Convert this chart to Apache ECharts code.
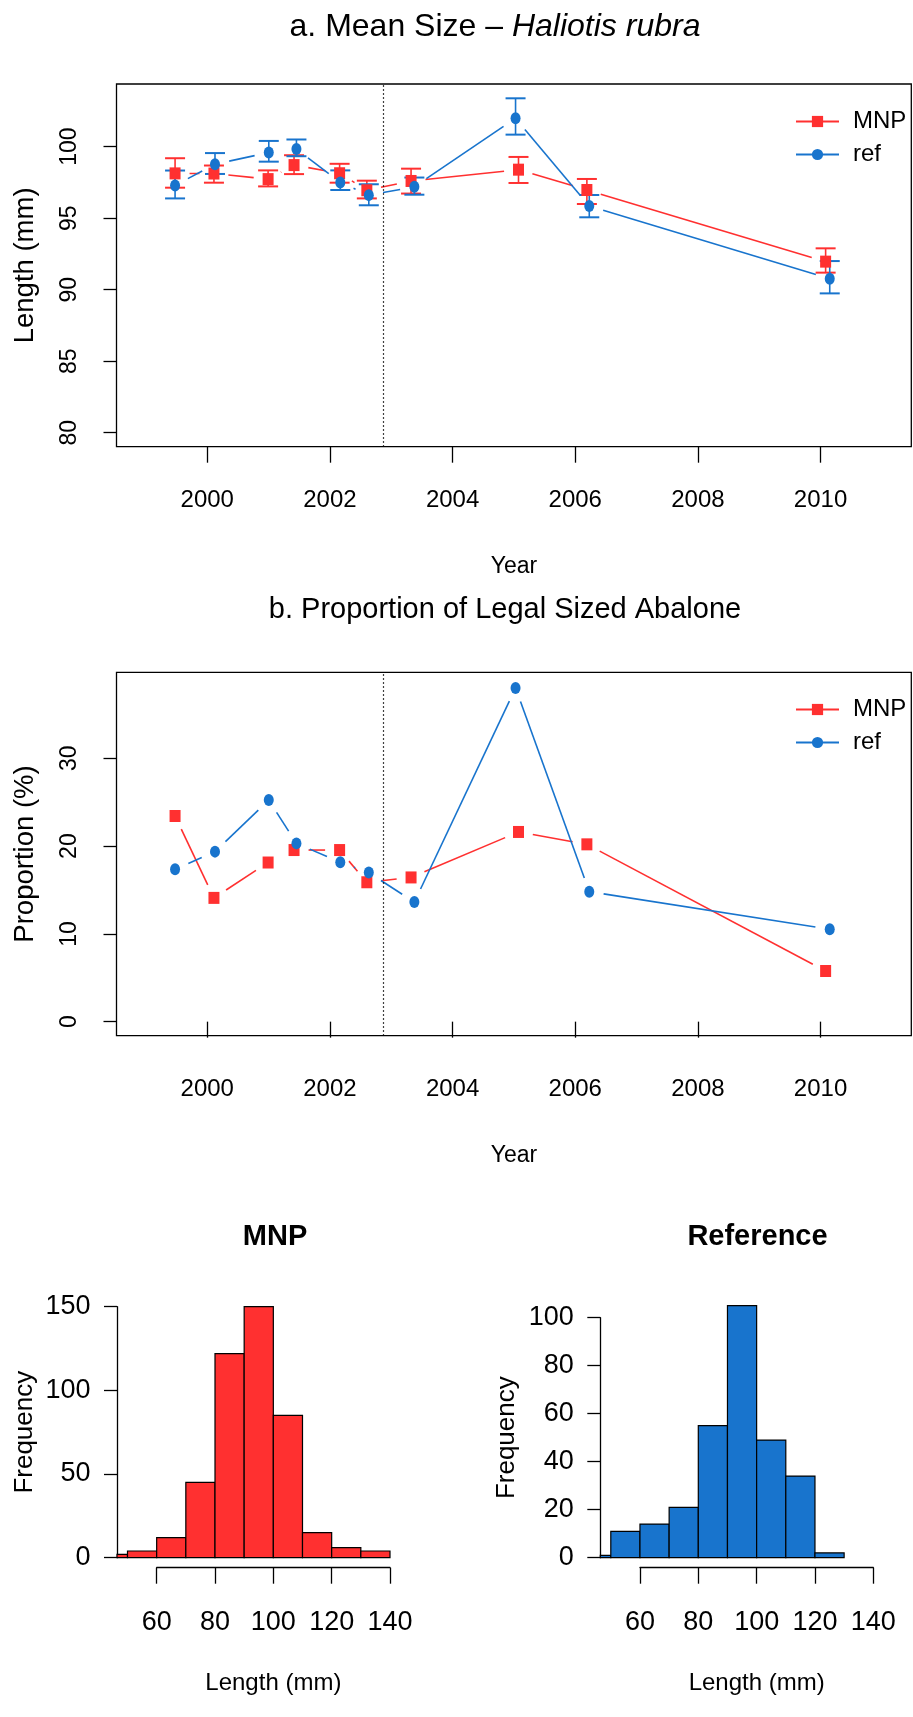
<!DOCTYPE html>
<html>
<head>
<meta charset="utf-8">
<title>Haliotis rubra - MNP vs reference</title>
<script src="https://cdn.jsdelivr.net/npm/echarts@6/dist/echarts.min.js"></script>
<style>
    html, body { margin: 0; padding: 0; background: #fff; }
    #chart { width: 913px; height: 1717px; }
</style>
</head>
<body>
<div id="chart"></div>
<script>
// survey dates, decimal years
const yearsMNP = [1999.475, 2000.109, 2000.992, 2001.415, 2002.158, 2002.602, 2003.323, 2005.075, 2006.190, 2010.083];
const yearsRef = [1999.475, 2000.126, 2001.003, 2001.454, 2002.169, 2002.634, 2003.377, 2005.027, 2006.229, 2010.150];
const protectionYear = 2002.873;

// a. mean length (mm) and error bar limits
const meanMNP = [98.13, 98.12, 97.73, 98.71, 98.14, 96.95, 97.60, 98.39, 96.97, 91.96];
const upMNP   = [99.19, 98.68, 98.34, 99.40, 98.80, 97.62, 98.46, 99.28, 97.74, 92.89];
const loMNP   = [97.13, 97.48, 97.22, 98.08, 97.48, 96.38, 96.72, 97.46, 95.99, 91.19];
const meanRef = [97.29, 98.77, 99.59, 99.83, 97.50, 96.61, 97.19, 101.98, 95.85, 90.77];
const upRef   = [98.33, 99.55, 100.40, 100.50, 98.34, 97.37, 97.84, 103.38, 96.62, 92.00];
const loRef   = [96.38, 98.09, 98.95, 99.33, 96.97, 95.90, 96.64, 100.84, 95.06, 89.74];

// b. proportion of legal sized abalone (%)
const propMNP = [23.43, 14.10, 18.13, 19.55, 19.55, 15.88, 16.43, 21.61, 20.20, 5.77];
const propRef = [17.36, 19.37, 25.24, 20.31, 18.15, 16.98, 13.62, 38.02, 14.81, 10.52];

// axis ticks
const yearTicks = [2000, 2002, 2004, 2006, 2008, 2010];
const lengthTicks = [80, 85, 90, 95, 100];
const propTicks = [0, 10, 20, 30];

// histograms, 10 mm bins
const binEdges = [40, 50, 60, 70, 80, 90, 100, 110, 120, 130, 140];
const histMNP = [2, 4, 12, 45, 122, 150, 85, 15, 6, 4];
const histRef = [1, 11, 14, 21, 55, 105, 49, 34, 2, 0];

const RED = '#FF3030';
const BLUE = '#1874CD';
const FONT = "'Liberation Sans', Arial, sans-serif";
const GAP = 14.5;   // type="b" gap round the points

const chart = echarts.init(document.getElementById('chart'), null, { renderer: 'canvas' });

function pairs(xs, ys) {
    return xs.map((x, i) => [x, ys[i]]);
}
function segments(xs, ys) {
    const out = [];
    for (let i = 0; i < xs.length - 1; i++) out.push([xs[i], ys[i], xs[i + 1], ys[i + 1]]);
    return out;
}
function bars(counts) {
    return counts.map((c, i) => [binEdges[i], binEdges[i + 1], c]);
}

function gapLine(color) {
    return function (params, api) {
        const p1 = api.coord([api.value(0), api.value(1)]);
        const p2 = api.coord([api.value(2), api.value(3)]);
        const dx = p2[0] - p1[0], dy = p2[1] - p1[1];
        const d = Math.sqrt(dx * dx + dy * dy);
        if (d <= 2 * GAP) return { type: 'group', children: [] };
        const ux = dx / d, uy = dy / d;
        return {
            type: 'line',
            shape: { x1: p1[0] + ux * GAP, y1: p1[1] + uy * GAP, x2: p2[0] - ux * GAP, y2: p2[1] - uy * GAP },
            style: { stroke: color, lineWidth: 1.6 }
        };
    };
}

function errorBar(color) {
    return function (params, api) {
        const x = api.value(0);
        const lo = api.coord([x, api.value(1)]);
        const hi = api.coord([x, api.value(2)]);
        const w = 10;
        return {
            type: 'group',
            children: [
                { type: 'line', shape: { x1: lo[0], y1: lo[1], x2: hi[0], y2: hi[1] }, style: { stroke: color, lineWidth: 1.6 } },
                { type: 'line', shape: { x1: hi[0] - w, y1: hi[1], x2: hi[0] + w, y2: hi[1] }, style: { stroke: color, lineWidth: 2 } },
                { type: 'line', shape: { x1: lo[0] - w, y1: lo[1], x2: lo[0] + w, y2: lo[1] }, style: { stroke: color, lineWidth: 2 } }
            ]
        };
    };
}

function histBar(color) {
    return function (params, api) {
        const count = api.value(2);
        if (!count) return { type: 'group', children: [] };
        const tl = api.coord([api.value(0), count]);
        const br = api.coord([api.value(1), 0]);
        const cs = params.coordSys;
        const x0 = Math.max(tl[0], cs.x);
        const x1 = Math.min(br[0], cs.x + cs.width);
        return {
            type: 'rect',
            shape: { x: x0, y: tl[1], width: x1 - x0, height: br[1] - tl[1] },
            style: { fill: color, stroke: '#000', lineWidth: 1.2 }
        };
    };
}

const tickLine = { color: '#000', width: 1.3 };

function yearAxis(gridIndex) {
    return {
        type: 'value', gridIndex, min: 1998.52, max: 2011.48,
        axisLine: { show: false },
        splitLine: { show: false },
        axisTick: { show: true, inside: false, length: 16, customValues: yearTicks, lineStyle: tickLine },
        axisLabel: { customValues: yearTicks, formatter: v => String(v), margin: 42, fontSize: 24, fontFamily: FONT, color: '#000' },
        name: 'Year', nameLocation: 'middle', nameGap: 108.5, nameMoveOverlap: false,
        nameTextStyle: { fontSize: 23, fontFamily: FONT, color: '#000' }
    };
}

function leftAxis(gridIndex, min, max, ticks, title) {
    return {
        type: 'value', gridIndex, min, max,
        axisLine: { show: false },
        splitLine: { show: false },
        axisTick: { show: true, inside: false, length: 13, customValues: ticks, lineStyle: tickLine },
        axisLabel: { customValues: ticks, rotate: 90, margin: 35, fontSize: 23, fontFamily: FONT, color: '#000' },
        name: title, nameLocation: 'middle', nameGap: 77, nameRotate: 90, nameMoveOverlap: false,
        nameTextStyle: { fontSize: 27.5, fontFamily: FONT, color: '#000' }
    };
}

function histY(gridIndex, max, interval, gap) {
    return {
        type: 'value', gridIndex, min: 0, max, interval,
        axisLine: { show: true, lineStyle: tickLine },
        splitLine: { show: false },
        axisTick: { show: true, inside: false, length: 13, lineStyle: tickLine },
        axisLabel: { margin: 26.5, fontSize: 27, fontFamily: FONT, color: '#000' },
        name: 'Frequency', nameLocation: 'middle', nameGap: gap, nameRotate: 90, nameMoveOverlap: false,
        nameTextStyle: { fontSize: 26, fontFamily: FONT, color: '#000' }
    };
}

function histX(gridIndex) {
    return {
        type: 'value', gridIndex, min: 60, max: 140, interval: 20,
        axisLine: { show: true, lineStyle: tickLine },
        splitLine: { show: false },
        axisTick: { show: true, inside: false, length: 16, lineStyle: tickLine },
        axisLabel: { margin: 41.5, fontSize: 27, fontFamily: FONT, color: '#000' },
        name: 'Length (mm)', nameLocation: 'middle', nameGap: 104, nameMoveOverlap: false,
        nameTextStyle: { fontSize: 24, fontFamily: FONT, color: '#000' }
    };
}

const boxGrid = { show: true, borderColor: '#000', borderWidth: 1.3, backgroundColor: 'transparent', outerBoundsMode: 'none' };

function legendAt(top) {
    return {
        orient: 'vertical', left: 790, top, itemWidth: 43, itemHeight: 14, itemGap: 9,
        selectedMode: false,
        data: ['MNP', 'ref'],
        lineStyle: { opacity: 1, width: 2 },
        textStyle: { fontSize: 24, fontFamily: FONT, color: '#000', padding: [0, 0, 0, 9] }
    };
}

function pointSeries(name, xi, xs, ys, color, symbol, size, withLine) {
    const s = {
        type: 'line', name, xAxisIndex: xi, yAxisIndex: xi,
        data: pairs(xs, ys),
        symbol, symbolSize: size, showSymbol: true,
        lineStyle: { opacity: 0, color },
        itemStyle: { color },
        emphasis: { disabled: true },
        z: 4
    };
    if (withLine) {
        s.markLine = {
            silent: true, symbol: 'none', label: { show: false },
            lineStyle: { color: '#000', width: 1.2, type: [1.5, 2.5] },
            data: [{ xAxis: protectionYear }]
        };
    }
    return s;
}

function lineSeries(xi, xs, ys, color) {
    return {
        type: 'custom', xAxisIndex: xi, yAxisIndex: xi,
        data: segments(xs, ys),
        encode: { x: [0, 2], y: [1, 3] },
        renderItem: gapLine(color), z: 3
    };
}

function errSeries(xi, xs, lo, up, color) {
    return {
        type: 'custom', xAxisIndex: xi, yAxisIndex: xi,
        data: xs.map((x, i) => [x, lo[i], up[i]]),
        encode: { x: 0, y: [1, 2] },
        renderItem: errorBar(color), z: 3
    };
}

const option = {
    animation: false,
    backgroundColor: '#fff',
    textStyle: { fontFamily: FONT },
    graphic: [
        {
            type: 'text', x: 495, y: 27.5,
            style: {
                text: '{n|a. Mean Size \u2013 }{i|Haliotis rubra}',
                textAlign: 'center', textVerticalAlign: 'middle',
                rich: {
                    n: { fontSize: 32, fontFamily: FONT, fill: '#000' },
                    i: { fontSize: 32, fontFamily: FONT, fontStyle: 'italic', fill: '#000' }
                }
            }
        },
        {
            type: 'text', x: 505, y: 610,
            style: { text: 'b. Proportion of Legal Sized Abalone', font: '29px ' + FONT, fill: '#000', textAlign: 'center', textVerticalAlign: 'middle' }
        },
        {
            type: 'text', x: 275, y: 1237,
            style: { text: 'MNP', font: 'bold 29px ' + FONT, fill: '#000', textAlign: 'center', textVerticalAlign: 'middle' }
        },
        {
            type: 'text', x: 757.5, y: 1237,
            style: { text: 'Reference', font: 'bold 29px ' + FONT, fill: '#000', textAlign: 'center', textVerticalAlign: 'middle' }
        }
    ],
    legend: [legendAt(104.5), legendAt(692.5)],
    grid: [
        Object.assign({ left: 116.5, top: 84, width: 794.8, height: 362.7 }, boxGrid),
        Object.assign({ left: 116.5, top: 672.3, width: 794.8, height: 363.4 }, boxGrid),
        { left: 117, top: 1306.7, width: 283.5, height: 251, outerBoundsMode: 'none' },
        { left: 600.3, top: 1317.7, width: 283.5, height: 240, outerBoundsMode: 'none' },
        { left: 156.7, top: 1566.7, width: 233.3, height: 1, outerBoundsMode: 'none' },
        { left: 640, top: 1566.7, width: 233.3, height: 1, outerBoundsMode: 'none' }
    ],
    xAxis: [
        yearAxis(0),
        yearAxis(1),
        { type: 'value', gridIndex: 2, min: 46.4, max: 143.6, show: false },
        { type: 'value', gridIndex: 3, min: 46.4, max: 143.6, show: false },
        histX(4),
        histX(5)
    ],
    yAxis: [
        leftAxis(0, 79.02, 104.38, lengthTicks, 'Length (mm)'),
        leftAxis(1, -1.6, 39.8, propTicks, 'Proportion (%)'),
        histY(2, 150, 50, 79),
        histY(3, 100, 20, 80),
        { type: 'value', gridIndex: 4, min: 0, max: 1, show: false },
        { type: 'value', gridIndex: 5, min: 0, max: 1, show: false }
    ],
    series: [
        // a. mean size
        errSeries(0, yearsMNP, loMNP, upMNP, RED),
        lineSeries(0, yearsMNP, meanMNP, RED),
        pointSeries('MNP', 0, yearsMNP, meanMNP, RED, 'rect', [11, 12], true),
        errSeries(0, yearsRef, loRef, upRef, BLUE),
        lineSeries(0, yearsRef, meanRef, BLUE),
        pointSeries('ref', 0, yearsRef, meanRef, BLUE, 'circle', [10, 12], false),
        // b. proportion legal
        lineSeries(1, yearsMNP, propMNP, RED),
        pointSeries('MNP', 1, yearsMNP, propMNP, RED, 'rect', [11, 12], true),
        lineSeries(1, yearsRef, propRef, BLUE),
        pointSeries('ref', 1, yearsRef, propRef, BLUE, 'circle', [10, 12], false),
        // histograms
        {
            type: 'custom', xAxisIndex: 2, yAxisIndex: 2,
            data: bars(histMNP), encode: { x: [0, 1], y: 2 },
            renderItem: histBar(RED)
        },
        {
            type: 'custom', xAxisIndex: 3, yAxisIndex: 3,
            data: bars(histRef), encode: { x: [0, 1], y: 2 },
            renderItem: histBar(BLUE)
        }
    ]
};

chart.setOption(option);
</script>
</body>
</html>
